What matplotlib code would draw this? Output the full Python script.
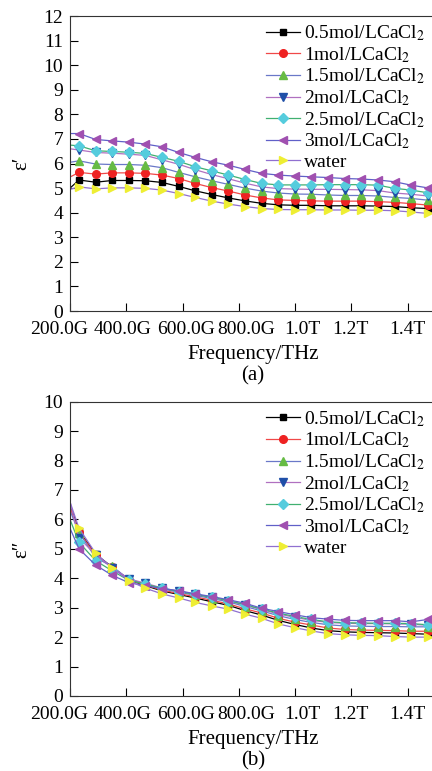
import matplotlib
matplotlib.use('Agg')
import matplotlib.pyplot as plt
import matplotlib.transforms as mtransforms

plt.rcParams['font.family'] = ['Liberation Serif', 'DejaVu Serif']
plt.rcParams['mathtext.fontset'] = 'stix'
plt.rcParams['font.size'] = 14

# frequency in THz (first point is the start of the curves, no marker drawn there)
freq = [0.200, 0.232, 0.291, 0.350, 0.409, 0.468, 0.527, 0.586, 0.645, 0.704, 0.763, 0.822,
        0.881, 0.940, 0.999, 1.058, 1.117, 1.176, 1.235, 1.294, 1.353, 1.412, 1.471]

labels = ['0.5mol/LCaCl$_2$', '1mol/LCaCl$_2$', '1.5mol/LCaCl$_2$', '2mol/LCaCl$_2$',
          '2.5mol/LCaCl$_2$', '3mol/LCaCl$_2$', 'water']

# real part eps'
re_05 = [5.00, 5.33, 5.24, 5.31, 5.31, 5.30, 5.23, 5.07, 4.89, 4.74, 4.60, 4.48, 4.38,
         4.32, 4.30, 4.30, 4.28, 4.28, 4.28, 4.27, 4.25, 4.20, 4.17]
re_1 = [5.45, 5.64, 5.57, 5.62, 5.62, 5.60, 5.53, 5.39, 5.19, 5.02, 4.88, 4.72, 4.60,
        4.52, 4.50, 4.48, 4.47, 4.47, 4.47, 4.45, 4.42, 4.37, 4.31]
re_15 = [6.05, 6.11, 5.98, 5.96, 5.96, 5.93, 5.83, 5.64, 5.46, 5.30, 5.15, 5.00, 4.88,
         4.80, 4.76, 4.75, 4.72, 4.70, 4.70, 4.68, 4.62, 4.58, 4.51]
re_2 = [6.60, 6.55, 6.45, 6.42, 6.38, 6.33, 6.15, 5.97, 5.75, 5.55, 5.38, 5.20, 5.05,
        4.98, 4.96, 4.95, 4.95, 4.94, 4.93, 4.90, 4.80, 4.75, 4.68]
re_25 = [6.75, 6.72, 6.52, 6.49, 6.46, 6.41, 6.25, 6.09, 5.87, 5.70, 5.53, 5.35, 5.19,
         5.13, 5.13, 5.13, 5.14, 5.14, 5.14, 5.12, 4.99, 4.92, 4.81]
re_3 = [7.22, 7.22, 6.98, 6.92, 6.87, 6.79, 6.68, 6.45, 6.25, 6.07, 5.93, 5.76, 5.60,
        5.53, 5.49, 5.46, 5.43, 5.39, 5.37, 5.33, 5.26, 5.12, 5.01]
re_w = [4.95, 5.05, 4.97, 5.01, 5.01, 4.99, 4.92, 4.78, 4.62, 4.47, 4.35, 4.25, 4.17,
        4.13, 4.12, 4.12, 4.11, 4.11, 4.10, 4.10, 4.08, 4.03, 3.97]

# imaginary part eps''
im_05 = [6.50, 5.60, 4.82, 4.38, 3.95, 3.75, 3.57, 3.45, 3.33, 3.20, 3.08, 2.90, 2.75,
         2.57, 2.43, 2.31, 2.22, 2.18, 2.16, 2.15, 2.14, 2.12, 2.10]
im_1 = [6.40, 5.58, 4.78, 4.38, 3.95, 3.77, 3.60, 3.48, 3.37, 3.25, 3.13, 2.96, 2.82,
        2.64, 2.51, 2.41, 2.31, 2.26, 2.24, 2.23, 2.22, 2.20, 2.20]
im_15 = [6.30, 5.55, 4.70, 4.40, 3.97, 3.80, 3.64, 3.53, 3.42, 3.31, 3.20, 3.04, 2.89,
         2.73, 2.60, 2.50, 2.42, 2.38, 2.37, 2.36, 2.36, 2.35, 2.35]
im_2 = [6.60, 5.37, 4.80, 4.35, 3.98, 3.83, 3.67, 3.56, 3.46, 3.35, 3.24, 3.09, 2.94,
        2.79, 2.67, 2.57, 2.50, 2.47, 2.46, 2.46, 2.45, 2.44, 2.40]
im_25 = [6.00, 5.22, 4.60, 4.25, 3.93, 3.80, 3.66, 3.55, 3.45, 3.35, 3.24, 3.10, 2.95,
         2.82, 2.70, 2.60, 2.52, 2.49, 2.48, 2.47, 2.47, 2.46, 2.42]
im_3 = [5.70, 5.00, 4.45, 4.10, 3.85, 3.75, 3.65, 3.58, 3.47, 3.38, 3.27, 3.15, 2.98,
        2.87, 2.76, 2.66, 2.61, 2.57, 2.56, 2.56, 2.56, 2.52, 2.60]
im_w = [6.60, 5.70, 4.85, 4.35, 3.92, 3.66, 3.47, 3.33, 3.18, 3.06, 2.95, 2.78, 2.64,
        2.45, 2.32, 2.21, 2.12, 2.08, 2.06, 2.05, 2.02, 2.00, 2.00]

xticks = [0.2, 0.4, 0.6, 0.8, 1.0, 1.2, 1.4]
xticklabels = ['200.0G', '400.0G', '600.0G', '800.0G', '1.0T', '1.2T', '1.4T']
# small horizontal nudges (pixels) so the crowded tick labels don't collide
label_nudge = [-11, -4, 3, 7, 7, -1, 0]

markers = ['s', 'o', '^', 'v', 'D', '<', '>']
msizes = [4.8, 5.5, 6.3, 6.3, 5.0, 6.3, 6.3]
face_colors = ['#000000', '#EE2222', '#66BB44', '#1F4FA8', '#55CCDD', '#A050B0', '#EEEE33']
line_colors = ['#000000', '#F04848', '#6A78C8', '#B070C0', '#40B070', '#6060C8', '#9070D0']


def draw_panel(fig, ax, series, ymax, ylabel, tag):
    for i, ys in enumerate(series):
        ax.plot(freq, ys, color=line_colors[i], lw=0.9, marker=markers[i],
                ms=msizes[i], mfc=face_colors[i], mec=face_colors[i],
                markevery=slice(1, None), label=labels[i])
    ax.set_xlim(0.2, 1.5)
    ax.set_ylim(0, ymax)
    ax.set_yticks(range(0, ymax + 1))
    ax.set_xticks(xticks)
    ax.set_xticklabels(xticklabels)
    ax.tick_params(direction='in', length=6, width=0.8, top=False, right=False)
    ax.tick_params(axis='x', pad=7)
    ax.tick_params(axis='y', pad=5)
    for lab, dx in zip(ax.get_xticklabels(), label_nudge):
        lab.set_transform(lab.get_transform() +
                          mtransforms.ScaledTranslation(dx / 100, 0, fig.dpi_scale_trans))
    for s in ax.spines.values():
        s.set_linewidth(0.8)
        s.set_color('#333333')
    ax.set_ylabel(ylabel, labelpad=9, fontsize=15)
    ax.set_xlabel('Frequency/THz\n' + tag, labelpad=5, linespacing=1.15, fontsize=15)
    ax.legend(loc='upper left', bbox_to_anchor=(0.535, 0.975), frameon=False,
              handlelength=1.75, handletextpad=0.2, labelspacing=0.1,
              borderpad=0, borderaxespad=0, fontsize=14)


fig = plt.figure(figsize=(4.32, 7.71), dpi=100)
ax1 = fig.add_axes([0.162, 0.5966, 0.847, 0.3826])
ax2 = fig.add_axes([0.162, 0.0973, 0.847, 0.3817])

draw_panel(fig, ax1, [re_05, re_1, re_15, re_2, re_25, re_3, re_w], 12, 'ε′', '(a)')
draw_panel(fig, ax2, [im_05, im_1, im_15, im_2, im_25, im_3, im_w], 10, 'ε″', '(b)')

fig.savefig('out.png', dpi=100)
